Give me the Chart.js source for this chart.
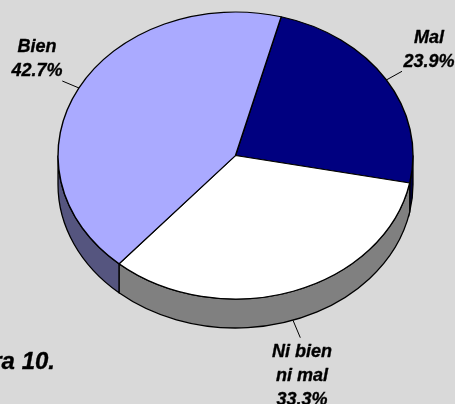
<!DOCTYPE html>
<html>
<head>
<meta charset="utf-8">
<style>
html,body{margin:0;padding:0;background:#D9D9D9;overflow:hidden}
canvas{display:block}
</style>
<script src="https://cdn.jsdelivr.net/npm/chart.js@4"></script>
</head>
<body>
<canvas id="c" width="455" height="404"></canvas>
<script>
const categories = ["Mal", "Ni bien ni mal", "Bien"];
const values = [23.9, 33.3, 42.7];
const valueLabels = ["23.9%", "33.3%", "42.7%"];
const topColors = ["#000080", "#FFFFFF", "#AAAAFF"];
const wallColors = ["#000040", "#808080", "#55557F"];
const caption = "Figura 10.";

const ELL = {cx: 235.5, cy: 155.5, rx: 177.5, ry: 143.5, depth: 29};
const labelFont = "italic bold 18px 'Liberation Sans', Arial, sans-serif";

function heavyText(ctx, t, x, y) {
  ctx.strokeText(t, x, y);
  ctx.fillText(t, x, y);
}

const tilt = {
  id: "tilt",
  beforeDatasetsDraw(chart) {
    const ctx = chart.ctx;
    const arcs = chart.getDatasetMeta(0).data;
    ctx.save();
    ctx.lineWidth = 1.3;
    ctx.strokeStyle = "#000";
    arcs.forEach((arc, i) => {
      const p = arc.getProps(["startAngle", "endAngle"], true);
      for (const off of [0, 2 * Math.PI, -2 * Math.PI]) {
        const s = Math.max(p.startAngle + off, 0);
        const e = Math.min(p.endAngle + off, Math.PI);
        if (e <= s) continue;
        ctx.beginPath();
        ctx.ellipse(ELL.cx, ELL.cy, ELL.rx, ELL.ry, 0, s, e);
        ctx.ellipse(ELL.cx, ELL.cy + ELL.depth, ELL.rx, ELL.ry, 0, e, s, true);
        ctx.closePath();
        ctx.fillStyle = wallColors[i];
        ctx.fill();
        ctx.stroke();
      }
    });
    ctx.restore();
  },
  beforeDatasetDraw(chart) {
    const ctx = chart.ctx;
    const a = chart.getDatasetMeta(0).data[0];
    const k = ELL.rx / a.outerRadius;
    ctx.save();
    ctx.translate(ELL.cx, ELL.cy);
    ctx.scale(k, ELL.ry / a.outerRadius);
    ctx.translate(-a.x, -a.y);
  },
  afterDatasetDraw(chart) {
    chart.ctx.restore();
  },
  afterDraw(chart) {
    const ctx = chart.ctx;
    ctx.save();
    ctx.fillStyle = "#000";
    ctx.strokeStyle = "#000";
    ctx.lineWidth = 1;
    [[[62.3, 81], [79, 88]], [[402, 71.3], [386.3, 80]], [[293, 320.3], [300.3, 337.7]]].forEach(l => {
      ctx.beginPath();
      ctx.moveTo(l[0][0], l[0][1]);
      ctx.lineTo(l[1][0], l[1][1]);
      ctx.stroke();
    });
    ctx.lineWidth = 0.35;
    ctx.lineJoin = "round";
    ctx.font = labelFont;
    ctx.textAlign = "center";
    ctx.textBaseline = "alphabetic";
    heavyText(ctx, categories[2], 37, 52);
    heavyText(ctx, valueLabels[2], 37, 76);
    heavyText(ctx, categories[0], 429, 43);
    heavyText(ctx, valueLabels[0], 429, 67);
    const parts = ["Ni bien", "ni mal"];
    heavyText(ctx, parts[0], 302, 357);
    heavyText(ctx, parts[1], 302, 381);
    heavyText(ctx, valueLabels[1], 302, 405);
    ctx.font = "italic bold 24px 'Liberation Sans', Arial, sans-serif";
    ctx.textAlign = "right";
    heavyText(ctx, caption, 55, 369);
    ctx.restore();
  }
};

new Chart(document.getElementById("c"), {
  type: "pie",
  data: {
    labels: categories,
    datasets: [{
      data: values,
      backgroundColor: topColors,
      borderColor: "#000",
      borderWidth: 1.4
    }]
  },
  options: {
    responsive: false,
    animation: false,
    rotation: 14.9,
    layout: {padding: {left: 50, right: 50, top: 24.5, bottom: 24.5}},
    plugins: {legend: {display: false}, tooltip: {enabled: false}}
  },
  plugins: [tilt]
});
</script>
</body>
</html>
